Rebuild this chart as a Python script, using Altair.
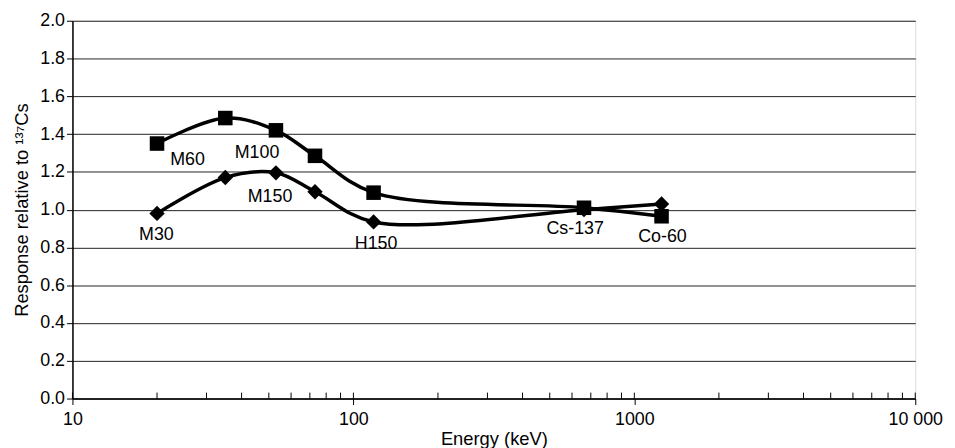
import altair as alt
import pandas as pd

# ---- data ----
energy = [20, 35, 53, 73, 118, 662, 1250]
square_resp = [1.35, 1.485, 1.42, 1.285, 1.09, 1.01, 0.965]
diamond_resp = [0.98, 1.17, 1.195, 1.095, 0.935, 1.0, 1.03]

label_text = ["M30", "M60", "M100", "M150", "H150", "Cs-137", "Co-60"]
label_energy = [19.9, 25.7, 45.4, 50.5, 120.5, 616, 1259]
label_resp = [0.866, 1.265, 1.30, 1.066, 0.82, 0.90, 0.856]

major_ticks = [10, 100, 1000, 10000]
minor_ticks = [10, 20, 30, 40, 50, 60, 70, 80, 90,
               100, 200, 300, 400, 500, 600, 700, 800, 900,
               1000, 2000, 3000, 4000, 5000, 6000, 7000, 8000, 9000, 10000]
y_ticks = [0.0, 0.2, 0.4, 0.6, 0.8, 1.0, 1.2, 1.4, 1.6, 1.8, 2.0]

FONT = "Liberation Sans"
W, H = 850, 381

sq = pd.DataFrame({"energy": energy, "resp": square_resp})
di = pd.DataFrame({"energy": energy, "resp": diamond_resp})
lab = pd.DataFrame({"energy": label_energy, "resp": label_resp, "text": label_text})
ticks = pd.DataFrame({"energy": minor_ticks})

xscale = alt.Scale(type="log", domain=[10, 10000], nice=False)
yscale = alt.Scale(domain=[0, 2], nice=False)

x_axis = alt.Axis(
    values=major_ticks, title="Energy (keV)", grid=False,
    labelExpr="datum.value == 10000 ? '10 000' : format(datum.value, 'd')",
    tickSize=6, tickColor="black", domainColor="black", domainWidth=1.5,
    labelFont=FONT, labelFontSize=18, labelColor="black", labelPadding=6,
    titleFont=FONT, titleFontSize=18.5, titleFontWeight="normal", titleColor="black",
    titlePadding=1, labelFlush=False, labelOverlap=False,
)
y_axis = alt.Axis(
    values=y_ticks, format=".1f", title="Response relative to \u00b9\u00b3\u2077Cs",
    grid=True, gridColor="#222", gridWidth=1,
    tickSize=6, tickColor="black", domainColor="black", domainWidth=1.5,
    labelFont=FONT, labelFontSize=18, labelColor="black", labelPadding=2,
    titleFont=FONT, titleFontSize=18.5, titleFontWeight="normal", titleColor="black",
    titlePadding=8, labelOverlap=False,
)

X = alt.X("energy:Q", scale=xscale, axis=x_axis)
Y = alt.Y("resp:Q", scale=yscale, axis=y_axis)

tick_rules = alt.Chart(ticks).mark_rule(color="black", strokeWidth=1).encode(
    x=X,
    y=alt.value(H),
    y2=alt.value(H - 6),
)

sq_line = alt.Chart(sq).mark_line(color="black", strokeWidth=3.5, interpolate="catmull-rom").encode(x=X, y=Y)
sq_pts = alt.Chart(sq).mark_point(shape="square", filled=True, color="black", size=215, opacity=1).encode(x=X, y=Y)

di_line = alt.Chart(di).mark_line(color="black", strokeWidth=3.5, interpolate="catmull-rom").encode(x=X, y=Y)
di_pts = alt.Chart(di).mark_point(shape="diamond", filled=True, color="black", size=240, opacity=1).encode(x=X, y=Y)

labels = alt.Chart(lab).mark_text(font=FONT, fontSize=18, color="black", align="center", baseline="middle").encode(
    x=X, y=Y, text="text:N")

chart = alt.layer(sq_line, tick_rules, di_line, sq_pts, di_pts, labels).properties(
    width=W, height=H,
    autosize=alt.AutoSizeParams(type="none"),
    padding={"left": 65, "top": 11, "right": 32, "bottom": 48},
).configure_view(stroke="black", strokeWidth=1.5).configure(background="white")

chart.save("out.html", embed_options={"renderer": "svg", "actions": False})
